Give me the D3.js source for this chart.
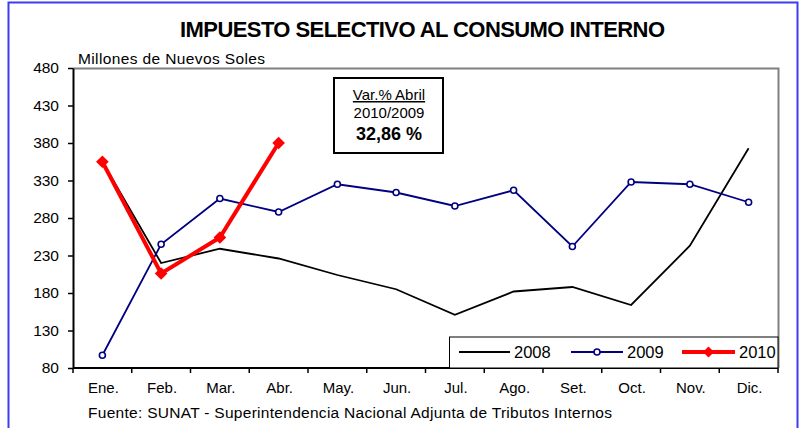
<!DOCTYPE html>
<html>
<head>
<meta charset="utf-8">
<script src="https://cdn.jsdelivr.net/npm/d3@7"></script>
<style>
  body { margin: 0; background: #fff; }
  svg { display: block; font-family: "Liberation Sans", Arial, sans-serif; }
</style>
</head>
<body>
<div id="chart"></div>
<script>
// data
const months = ["Ene.", "Feb.", "Mar.", "Abr.", "May.", "Jun.", "Jul.", "Ago.", "Set.", "Oct.", "Nov.", "Dic."];
const v2008 = [355, 220, 239, 226, 204, 185, 151, 182, 188, 164, 243, 373];
const v2009 = [97, 245, 306, 288, 325, 314, 296, 317, 242, 328, 325, 301];
const v2010 = [355, 206, 254, 380];
const yTicks = [80, 130, 180, 230, 280, 330, 380, 430, 480];

let width = 805;
let height = 428;
let margin = {left: 73, right: 27, top: 68, bottom: 60};

let svg = d3.select("#chart").append("svg")
    .attr("width", width)
    .attr("height", height);

// blue frame
svg.append("rect")
    .attr("x", 8.5).attr("y", 2.5)
    .attr("width", 789).attr("height", 440)
    .attr("fill", "#fff")
    .attr("stroke", "#3c3cf0")
    .attr("stroke-width", 2);

const x = d3.scaleBand()
    .domain(months)
    .range([margin.left, width - margin.right])
    .padding(0);

const y = d3.scaleLinear()
    .domain([80, 480])
    .range([height - margin.bottom, margin.top]);

const cx = d => x(d) + x.bandwidth() / 2;

// plot frame (gray top/right)
svg.append("path")
    .attr("d", `M${x.range()[0]},${y(480) + 0.5}H${x.range()[1] + 0.5}V${y(80)}`)
    .attr("fill", "none")
    .attr("stroke", "#808080")
    .attr("stroke-width", 2);

// title
svg.append("text")
    .attr("x", 422.5).attr("y", 37)
    .attr("text-anchor", "middle")
    .attr("font-weight", "bold")
    .attr("font-size", 22)
    .attr("textLength", 485)
    .attr("lengthAdjust", "spacing")
    .text("IMPUESTO SELECTIVO AL CONSUMO INTERNO");

svg.append("text")
    .attr("x", 78).attr("y", 64)
    .attr("font-size", 15.5)
    .attr("textLength", 187)
    .attr("lengthAdjust", "spacing")
    .text("Millones de Nuevos Soles");

// y axis
let yAxis = svg.append("g")
    .attr("transform", `translate(${margin.left},0)`)
    .call(d3.axisLeft(y).tickValues(yTicks).tickSize(5).tickPadding(9).tickSizeOuter(0));
yAxis.select(".domain").attr("stroke", "#000").attr("stroke-width", 2);
yAxis.selectAll(".tick line").attr("stroke", "#000").attr("stroke-width", 1.5);
yAxis.selectAll("text").attr("font-size", 15.5).attr("fill", "#000")
    .attr("font-family", "Liberation Sans, Arial, sans-serif");

// x axis
let xAxis = svg.append("g")
    .attr("transform", `translate(0,${y(80)})`);
xAxis.append("line")
    .attr("x1", x.range()[0]).attr("x2", x.range()[1])
    .attr("stroke", "#000").attr("stroke-width", 2);
xAxis.selectAll(".tk")
    .data(d3.range(months.length + 1))
    .join("line")
    .attr("x1", i => x.range()[0] + i * x.step())
    .attr("x2", i => x.range()[0] + i * x.step())
    .attr("y1", 0).attr("y2", 5)
    .attr("stroke", "#000").attr("stroke-width", 1.5);
xAxis.selectAll("text")
    .data(months)
    .join("text")
    .attr("x", d => cx(d) + 1)
    .attr("y", 25)
    .attr("text-anchor", "middle")
    .attr("font-size", 15)
    .text(d => d);

// source
svg.append("text")
    .attr("x", 88).attr("y", 418)
    .attr("font-size", 15.5)
    .attr("textLength", 524)
    .attr("lengthAdjust", "spacing")
    .text("Fuente: SUNAT - Superintendencia Nacional Adjunta de Tributos Internos");

// annotation box
let box = svg.append("g");
box.append("rect")
    .attr("x", 334).attr("y", 78)
    .attr("width", 109).attr("height", 75)
    .attr("fill", "#fff").attr("stroke", "#000").attr("stroke-width", 2);
box.append("text")
    .attr("x", 389).attr("y", 100)
    .attr("text-anchor", "middle").attr("font-size", 15)
    .attr("text-decoration", "underline")
    .text("Var.% Abril");
box.append("text")
    .attr("x", 389).attr("y", 118)
    .attr("text-anchor", "middle").attr("font-size", 15)
    .text("2010/2009");
box.append("text")
    .attr("x", 389).attr("y", 140)
    .attr("text-anchor", "middle").attr("font-size", 18).attr("font-weight", "bold")
    .text("32,86 %");

// series
let line = d3.line().x((d, i) => cx(months[i])).y(d => y(d));

svg.append("path").datum(v2008)
    .attr("d", line).attr("fill", "none")
    .attr("stroke", "#000").attr("stroke-width", 1.8);

svg.append("path").datum(v2009)
    .attr("d", line).attr("fill", "none")
    .attr("stroke", "#000080").attr("stroke-width", 1.8);
svg.selectAll(".c09").data(v2009).join("circle")
    .attr("cx", (d, i) => cx(months[i])).attr("cy", d => y(d))
    .attr("r", 3).attr("fill", "#fff")
    .attr("stroke", "#000080").attr("stroke-width", 1.6);

svg.append("path").datum(v2010)
    .attr("d", line).attr("fill", "none")
    .attr("stroke", "#ff0000").attr("stroke-width", 4);
const diamond = d3.symbol().type(d3.symbolSquare).size(80);
svg.selectAll(".d10").data(v2010).join("path")
    .attr("d", diamond)
    .attr("transform", (d, i) => `translate(${cx(months[i])},${y(d)}) rotate(45)`)
    .attr("fill", "#ff0000");

// legend
let lg = svg.append("g");
lg.append("rect")
    .attr("x", 449.5).attr("y", 337)
    .attr("width", x.range()[1] - 449.5).attr("height", y(80) - 337)
    .attr("fill", "#fff").attr("stroke", "#000").attr("stroke-width", 1);

const legendItems = [
    {name: "2008", color: "#000", w: 1.8, x0: 459, x1: 510, mark: null},
    {name: "2009", color: "#000080", w: 1.8, x0: 571, x1: 623, mark: "circle"},
    {name: "2010", color: "#ff0000", w: 4, x0: 682, x1: 735, mark: "diamond"}
];
const ly = 352;
legendItems.forEach(it => {
    lg.append("line")
        .attr("x1", it.x0).attr("x2", it.x1).attr("y1", ly).attr("y2", ly)
        .attr("stroke", it.color).attr("stroke-width", it.w);
    let mx = (it.x0 + it.x1) / 2;
    if (it.mark === "circle") {
        lg.append("circle").attr("cx", mx).attr("cy", ly).attr("r", 3)
            .attr("fill", "#fff").attr("stroke", it.color).attr("stroke-width", 1.6);
    } else if (it.mark === "diamond") {
        lg.append("path").attr("d", d3.symbol().type(d3.symbolSquare).size(60))
            .attr("transform", `translate(${mx},${ly}) rotate(45)`).attr("fill", it.color);
    }
    lg.append("text")
        .attr("x", it.x1 + 4).attr("y", ly + 6)
        .attr("font-size", 16.5)
        .text(it.name);
});
</script>
</body>
</html>
